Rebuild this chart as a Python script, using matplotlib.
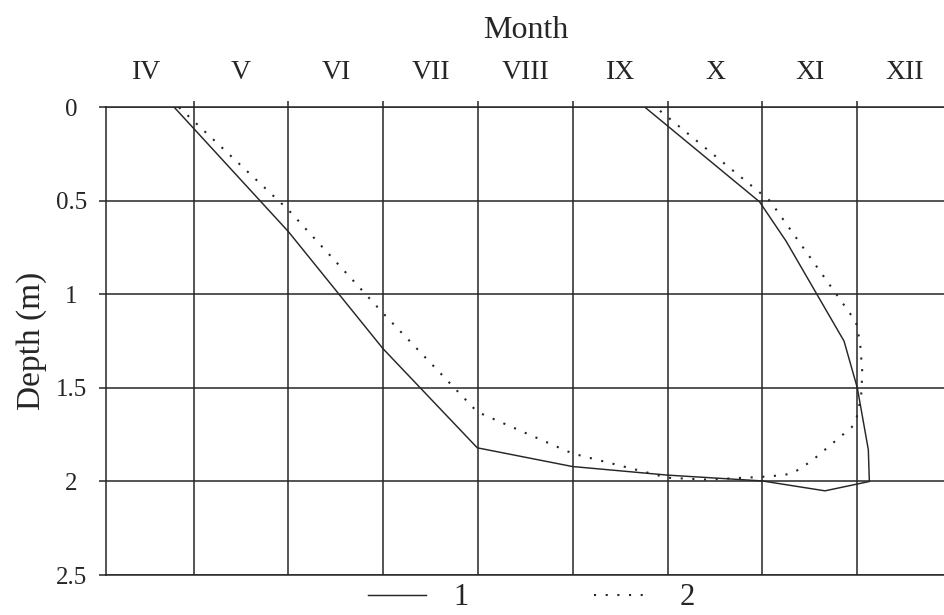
import matplotlib
matplotlib.use("Agg")
import matplotlib.pyplot as plt
from matplotlib.ticker import FixedLocator

plt.rcParams['font.family'] = ['Liberation Serif', 'DejaVu Serif']

# ---- data (x = month position, grid line k = start of month k after April) ----
months = ['IV', 'V', 'VI', 'VII', 'VIII', 'IX', 'X', 'XI', 'XII']
month_pos = [0.5, 1.5, 2.5, 3.5, 4.5, 5.5, 6.5, 7.5, 8.5]
grid_months = [1, 2, 3, 4, 5, 6, 7, 8]
depth_ticks = [0, 0.5, 1, 1.5, 2, 2.5]
depth_labels = ['0', '0.5', '1', '1.5', '2', '2.5']

series1_x = [0.795, 2.0, 2.997, 3.992, 4.995, 6.0, 6.997, 7.661, 8.129, 8.118,
             8.002, 7.862, 7.25, 6.97, 5.762]
series1_d = [0.0, 0.665, 1.29, 1.82, 1.92, 1.966, 1.997, 2.05, 2.0, 1.83,
             1.50, 1.25, 0.715, 0.505, 0.0]

series2_x = [0.845, 2.0, 2.997, 3.992, 4.995, 6.0, 6.41, 7.0, 7.22, 7.327,
             7.52, 7.696, 7.865, 7.943, 7.996, 8.041, 8.055, 8.031, 7.988,
             7.08, 5.875]
series2_d = [0.0, 0.549, 1.10, 1.628, 1.85, 1.98, 1.99, 1.975, 1.966, 1.954,
             1.89, 1.815, 1.743, 1.71, 1.655, 1.55, 1.42, 1.26, 1.147,
             0.50, 0.0]
series_labels = ['1', '2']

# ---- figure ----
ink = '#262626'
fig = plt.figure(figsize=(9.45, 6.15), dpi=100)
ax = fig.add_axes([0.1122, 0.065, 1.0 - 0.1122, 0.8255 - 0.065])

ax.set_xlim(0.075, 8.927)
ax.set_ylim(2.5, 0)

l1, = ax.plot(series1_x, series1_d, color=ink, lw=1.05, solid_joinstyle='miter')
l2, = ax.plot(series2_x, series2_d, color=ink, lw=1.5, linestyle=(0, (1, 4.6)))

# grid
ax.xaxis.set_major_locator(FixedLocator(grid_months))
ax.xaxis.set_minor_locator(FixedLocator(month_pos))
ax.xaxis.set_major_formatter(plt.NullFormatter())
ax.xaxis.set_minor_formatter(plt.FixedFormatter(months))
ax.yaxis.set_major_locator(FixedLocator(depth_ticks))
ax.set_yticklabels(depth_labels)
ax.grid(True, which='major', color=ink, lw=1.1)
ax.set_axisbelow(True)

ax.xaxis.tick_top()
ax.tick_params(axis='x', which='major', direction='out', length=4.5, width=1.1,
               color=ink, top=True, bottom=False)
ax.tick_params(axis='x', which='minor', length=0, top=True, bottom=False,
               labeltop=True, labelbottom=False, labelsize=20, pad=16,
               labelcolor=ink)
ax.tick_params(axis='y', which='major', direction='out', length=5, width=1.1,
               color=ink, labelsize=18, pad=20, labelcolor=ink)
for lab in ax.get_yticklabels():
    lab.set_horizontalalignment('center')

for side in ['top', 'bottom', 'left']:
    ax.spines[side].set_color(ink)
    ax.spines[side].set_linewidth(1.1)
ax.spines['right'].set_visible(False)

ax.xaxis.set_label_position('top')
ax.set_xlabel('Month', fontsize=23, color=ink, labelpad=16)
ax.set_ylabel('Depth (m)', fontsize=24, color=ink, labelpad=6)

ax.legend([l1, l2], series_labels, loc='center', ncol=2,
          bbox_to_anchor=(0.562, 0.028), bbox_transform=fig.transFigure,
          frameon=False, fontsize=22, handlelength=1.9, handletextpad=0.9,
          columnspacing=4.1, labelcolor=ink, borderpad=0, borderaxespad=0)

fig.savefig('out.png', dpi=100)
